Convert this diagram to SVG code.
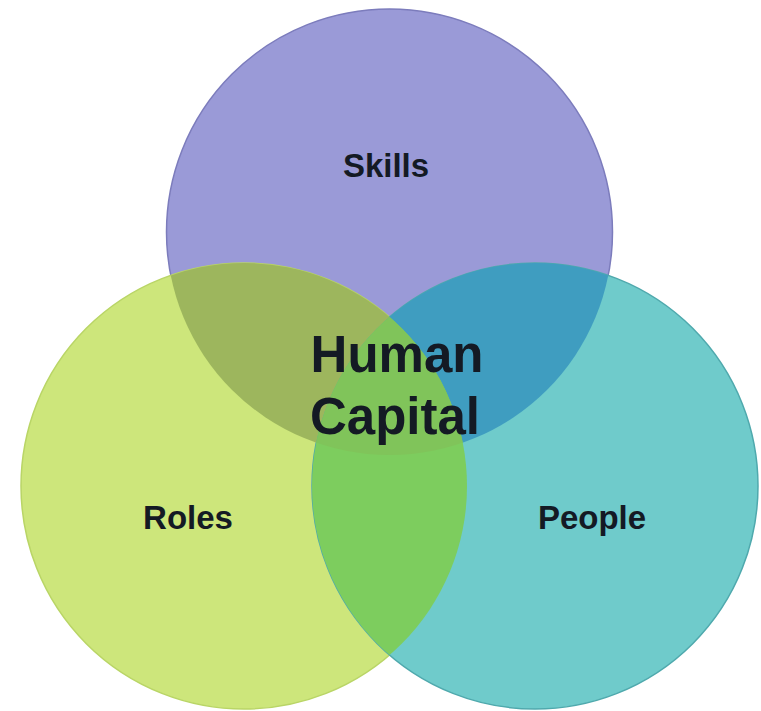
<svg xmlns="http://www.w3.org/2000/svg" width="761" height="711" viewBox="0 0 761 711">
  <defs>
    <clipPath id="clipS"><circle cx="389.5" cy="232" r="223"/></clipPath>
    <clipPath id="clipR"><circle cx="244" cy="486" r="223"/></clipPath>
    <clipPath id="clipP"><circle cx="535" cy="486" r="223"/></clipPath>
  </defs>
  <style>
    .lbl { font-family: "Liberation Sans", Arial, sans-serif; font-weight: bold; fill: #141a24; text-anchor: middle; }
    .small { font-size: 33px; }
    .big { font-size: 51px; }
  </style>
  <rect width="761" height="711" fill="#ffffff"/>
  <g id="skills">
    <circle cx="389.5" cy="232" r="223" fill="#9a9ad7" stroke="#7c7cbc" stroke-width="1.5"/>
  </g>
  <g id="roles">
    <circle cx="244" cy="486" r="223" fill="#cde67b" stroke="#b9d566" stroke-width="1.5"/>
  </g>
  <g id="people">
    <circle cx="535" cy="486" r="223" fill="#6fcbcb" stroke="#4fa9ad" stroke-width="1.5"/>
  </g>
  <g id="overlaps">
    <circle cx="244" cy="486" r="223" fill="#9db65d" clip-path="url(#clipS)"/>
    <circle cx="535" cy="486" r="223" fill="#3f9dc0" clip-path="url(#clipS)"/>
    <circle cx="535" cy="486" r="223" fill="#7dcd5e" clip-path="url(#clipR)"/>
    <g clip-path="url(#clipS)">
      <circle cx="535" cy="486" r="223" fill="#80c45a" clip-path="url(#clipR)"/>
    </g>
  </g>
  <g id="labels">
    <text class="lbl small" x="386" y="177">Skills</text>
    <text class="lbl small" x="188" y="529">Roles</text>
    <text class="lbl small" x="592" y="529">People</text>
  </g>
  <g id="human-capital">
    <text class="lbl big" x="397" y="372">Human</text>
    <text class="lbl big" x="395" y="434">Capital</text>
  </g>
</svg>
